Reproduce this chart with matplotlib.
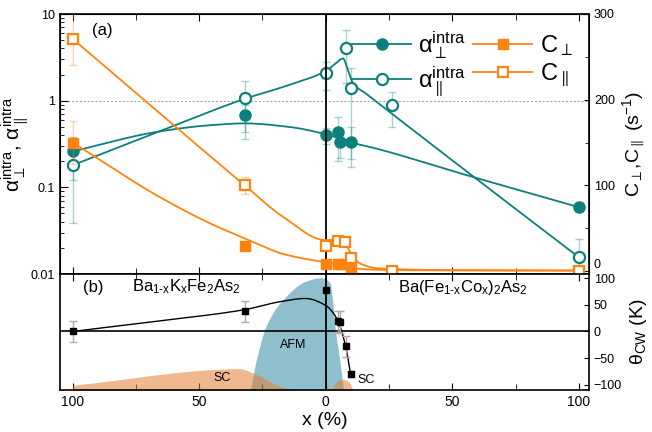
import numpy as np
import matplotlib
matplotlib.use("Agg")
import matplotlib.pyplot as plt
from matplotlib.ticker import FixedLocator, FuncFormatter
from matplotlib.lines import Line2D

plt.rcParams['font.family'] = ['Liberation Sans', 'DejaVu Sans']
plt.rcParams['mathtext.fontset'] = 'custom'
plt.rcParams['mathtext.rm'] = 'Liberation Sans'
plt.rcParams['mathtext.it'] = 'Liberation Sans'

# ---------------- data (x in %, K-doped side negative) ----------------
# alpha_perp (filled circles)
ap_x = [-100, -32, 0, 4.8, 5.5, 10, 100]
ap_y = [0.26, 0.68, 0.40, 0.43, 0.33, 0.33, 0.059]
ap_lo = [0.12, 0.36, 0.32, 0.20, 0.22, 0.21, 0.052]
ap_hi = [0.38, 0.90, 0.49, 0.65, 0.45, 0.50, 0.068]
# alpha_par (open circles)
aq_x = [-100, -32, 0, 8, 10, 26, 100]
aq_y = [0.18, 1.06, 2.06, 4.07, 1.39, 0.89, 0.0156]
aq_lo = [0.039, 0.43, 1.32, 1.58, 0.17, 0.50, 0.008]
aq_hi = [0.36, 1.70, 2.81, 6.5, 2.36, 1.27, 0.0254]
# C_perp (filled squares, right axis)
cp_x = [-100, -32, 0, 4.8, 5.5, 10, 26, 100]
cp_y = [150, 29.6, 7.8, 7.8, 7.8, 2.7, 0.5, 0.5]
cp_err = [25, 6, 2, 2, 2, 1.5, 0.5, 0.5]
# C_par (open squares, right axis)
cq_x = [-100, -32, 0, 5, 7.5, 10, 26, 100]
cq_y = [271, 100, 29.6, 35.4, 33.6, 15.6, 0.5, 0.5]
cq_err = [31, 10, 3, 3, 3, 3, 0.5, 0.5]
# theta_CW (bottom panel)
th_x = [-100, -32, 0, 4.9, 5.5, 7.9, 9.8]
th_y = [0, 38, 78, 19, 18, -28, -80]
th_err = [20, 20, 4, 20, 20, 20, 6]

# guide-to-eye curves (knots)
ap_fit_x = [-100, -66, -46, -32, -15, 0, 5, 10, 20, 55, 100]
ap_fit_y = [0.26, 0.44, 0.52, 0.547, 0.50, 0.41, 0.37, 0.33, 0.28, 0.14, 0.059]
aq_fit_x = [-100, -66, -32, -15, 0, 4, 6.8, 8.8, 10.8, 16, 55, 100]
aq_fit_y = [0.18, 0.44, 1.05, 1.5, 2.2, 2.7, 3.07, 2.25, 1.58, 1.2, 0.158, 0.0156]
cp_fit_x = [-100, -66, -46, -32, -26, -17, 0, 5, 10, 20, 50, 100]
cp_fit_y = [150, 87, 56, 38, 30.4, 20, 10, 7.5, 3.5, 1.5, 0.7, 0.5]
cq_fit_x = [-100, -71.5, -32, -17, 0, 5, 8, 10, 13.4, 21, 50, 100]
cq_fit_y = [271, 199, 100, 63.5, 36, 37, 30, 20.7, 9, 3, 1, 0.5]
th_fit_x = [-100, -70, -32, -18, -8, 0.3, 2.9, 4.9, 7.9, 9.8]
th_fit_y = [0, 17.5, 41, 56, 62, 48, 35, 19, -29, -80]

# phase regions (bottom panel): x knots and upper boundary in theta units
afm_x = [-29.8, -27.4, -23.6, -16.9, -7.6, -2, 1.6, 2.9, 3.6, 5.5, 7.0]
afm_top = [-110, -53, 10, 60, 95, 101, 92, 48, 10, -53, -110]
sck_x = [-100, -34, -28.7, -19.5, -14.2]
sck_top = [-101, -70, -78, -100, -110]
scc_x = [2.2, 4, 6.6, 9, 10.8]
scc_top = [-110, -96, -90, -94, -110]

teal = '#0b807c'
orange = '#ff840f'
afm_col = '#8fbfcc'
sc_col = '#e47e32'


def pchip(xk, yk, xs):
    xk = np.asarray(xk, float); yk = np.asarray(yk, float)
    h = np.diff(xk); d = np.diff(yk) / h
    n = len(xk); m = np.zeros(n)
    for i in range(1, n - 1):
        if d[i - 1] * d[i] > 0:
            w1 = 2 * h[i] + h[i - 1]; w2 = h[i] + 2 * h[i - 1]
            m[i] = (w1 + w2) / (w1 / d[i - 1] + w2 / d[i])
    m[0] = d[0]; m[-1] = d[-1]
    idx = np.clip(np.searchsorted(xk, xs) - 1, 0, n - 2)
    t = (xs - xk[idx]) / h[idx]
    h00 = 2 * t**3 - 3 * t**2 + 1; h10 = t**3 - 2 * t**2 + t
    h01 = -2 * t**3 + 3 * t**2; h11 = t**3 - t**2
    return h00 * yk[idx] + h10 * h[idx] * m[idx] + h01 * yk[idx + 1] + h11 * h[idx] * m[idx + 1]


def curve(xk, yk, log=False, n=600):
    xs = np.linspace(xk[0], xk[-1], n)
    if log:
        return xs, 10 ** pchip(xk, np.log10(yk), xs)
    return xs, pchip(xk, yk, xs)


fig = plt.figure(figsize=(6.52, 4.32), dpi=100)
ax1 = fig.add_axes([60 / 652, 1 - 274 / 432, 529 / 652, 260 / 432])
ax2 = ax1.twinx()
ax3 = fig.add_axes([60 / 652, 1 - 390 / 432, 529 / 652, 116 / 432])

xlim = (-105, 104)
xt = [-100, -50, 0, 50, 100]
xmin = [-75, -25, 25, 75]

# ---------------- top panel ----------------
ax1.set_yscale('log')
ax1.set_xlim(*xlim)
ax1.set_ylim(0.01, 10)
ax2.set_ylim(-3.5, 300)
ax1.axhline(1, color='#999999', ls=(0, (2, 2)), lw=0.7, zorder=1)


def aerr(y, lo, hi):
    y = np.asarray(y)
    return [y - np.asarray(lo), np.asarray(hi) - y]


xs, ys = curve(ap_fit_x, ap_fit_y, log=True)
ax1.plot(xs, ys, color=teal, lw=1.3, zorder=3)
xs, ys = curve(aq_fit_x, aq_fit_y, log=True)
ax1.plot(xs, ys, color=teal, lw=1.3, zorder=3)
ax1.errorbar(ap_x, ap_y, yerr=aerr(ap_y, ap_lo, ap_hi), fmt='none',
             ecolor=teal, alpha=0.35, elinewidth=1, capsize=3, zorder=2)
ax1.errorbar(aq_x, aq_y, yerr=aerr(aq_y, aq_lo, aq_hi), fmt='none',
             ecolor=teal, alpha=0.35, elinewidth=1, capsize=3, zorder=2)
ax1.plot(ap_x, ap_y, 'o', color=teal, ms=8, zorder=5)
ax1.plot(aq_x, aq_y, 'o', mfc='white', mec=teal, mew=1.6, ms=8, zorder=5)

xs, ys = curve(cp_fit_x, cp_fit_y)
ax2.plot(xs, ys, color=orange, lw=1.3, zorder=3)
xs, ys = curve(cq_fit_x, cq_fit_y)
ax2.plot(xs, ys, color=orange, lw=1.3, zorder=3)
ax2.errorbar(cp_x, cp_y, yerr=cp_err, fmt='none', ecolor=orange, alpha=0.35,
             elinewidth=1, capsize=3, zorder=2)
ax2.errorbar(cq_x, cq_y, yerr=cq_err, fmt='none', ecolor=orange, alpha=0.35,
             elinewidth=1, capsize=3, zorder=2)
ax2.plot(cp_x, cp_y, 's', color=orange, ms=7.5, zorder=5)
ax2.plot(cq_x, cq_y, 's', mfc='white', mec=orange, mew=1.6, ms=7.5, zorder=6)

ax1.axvline(0, color='black', lw=1.3, zorder=7)

ax1.set_xticks(xt)
ax1.set_xticks(xmin, minor=True)
ax1.tick_params(axis='x', which='both', direction='in', top=True, bottom=True,
                labelbottom=False, length=4)
ax1.tick_params(axis='x', which='major', length=5)
ax1.yaxis.set_major_locator(FixedLocator([0.01, 0.1, 1, 10]))
ax1.yaxis.set_major_formatter(FuncFormatter(
    lambda v, p: {0.01: '0.01', 0.1: '0.1', 1: '1', 10: '10'}.get(round(v, 3), '')))
ax1.tick_params(axis='y', which='both', direction='in', labelsize=9)
ax1.tick_params(axis='y', which='major', length=6)
ax1.tick_params(axis='y', which='minor', length=3)
ax2.set_yticks([0, 100, 200, 300])
ax2.set_yticks([50, 150, 250], minor=True)
ax2.tick_params(axis='y', which='both', direction='in', labelsize=9)
ax2.tick_params(axis='y', which='minor', length=3)
fig.canvas.draw()
ax2.get_yticklabels()[0].set_verticalalignment('bottom')

ax1.set_ylabel('α$_{\\perp}^{\\rm intra}$, α$_{\\parallel}^{\\rm intra}$',
               fontsize=15, labelpad=0)
ax2.set_ylabel(r'C$_{\perp}$,C$_{\parallel}$ (s$^{-1}$)', fontsize=14, labelpad=4)
ax1.text(0.06, 0.935, '(a)', transform=ax1.transAxes, fontsize=12, va='center')

h1 = Line2D([], [], color=teal, marker='o', ms=8, lw=1.3)
h2 = Line2D([], [], color=teal, marker='o', ms=8, mfc='white', mew=1.6, lw=1.3)
h3 = Line2D([], [], color=orange, marker='s', ms=7.5, lw=1.3)
h4 = Line2D([], [], color=orange, marker='s', ms=7.5, mfc='white', mew=1.6, lw=1.3)
leg = ax1.legend([h1, h2, h3, h4],
                 ['α$_{\\perp}^{\\rm intra}$', 'α$_{\\parallel}^{\\rm intra}$',
                  'C$_{\\perp}$', 'C$_{\\parallel}$'],
                 ncol=2, loc='upper right', bbox_to_anchor=(0.995, 0.995),
                 frameon=False, fontsize=17, handlelength=2.5, handletextpad=0.3,
                 columnspacing=0.3, labelspacing=0.15, borderaxespad=0.2)
leg.set_zorder(10)
for s in ax1.spines.values():
    s.set_linewidth(1.2)

# ---------------- bottom panel ----------------
ax3.set_xlim(*xlim)
ax3.set_ylim(-110, 108)
xs, ys = curve(afm_x, afm_top, n=800)
ax3.fill_between(xs, -115, ys, color=afm_col, lw=0, zorder=1)
xs, ys = curve(sck_x, sck_top)
ax3.fill_between(xs, -115, ys, color=sc_col, alpha=0.55, lw=0, zorder=2)
xs, ys = curve(scc_x, scc_top)
ax3.fill_between(xs, -115, ys, color=sc_col, alpha=0.55, lw=0, zorder=2)
ax3.axhline(0, color='black', lw=1.2, zorder=3)
ax3.axvline(0, color='black', lw=1.3, zorder=3)
xs, ys = curve(th_fit_x, th_fit_y)
ax3.plot(xs, ys, color='black', lw=1.0, zorder=4)
ax3.errorbar(th_x, th_y, yerr=th_err, fmt='none', ecolor='#aaaaaa',
             elinewidth=1, capsize=3, zorder=4)
ax3.plot(th_x, th_y, 's', color='black', ms=5, zorder=5)

ax3.text(-13, -26, 'AFM', fontsize=9, ha='center', va='center', zorder=6)
ax3.text(-41, -88, 'SC', fontsize=9, ha='center', va='center', zorder=6)
ax3.text(16, -92, 'SC', fontsize=9, ha='center', va='center', zorder=6)
ax3.text(-92, 82, '(b)', fontsize=12, ha='center', va='center')
ax3.text(-55, 84, r'Ba$_{\rm 1\text{-}x}$K$_{\rm x}$Fe$_2$As$_2$', fontsize=12,
         ha='center', va='center')
ax3.text(54, 82, r'Ba(Fe$_{\rm 1\text{-}x}$Co$_{\rm x}$)$_2$As$_2$', fontsize=12,
         ha='center', va='center')

ax3.set_xticks(xt)
ax3.set_xticks(xmin, minor=True)
ax3.set_xticklabels([str(abs(v)) for v in xt])
ax3.tick_params(axis='x', which='both', direction='in', top=True, length=4, labelsize=10)
ax3.tick_params(axis='x', which='major', length=5)
ax3.yaxis.tick_right()
ax3.yaxis.set_label_position('right')
ax3.set_yticks([-100, -50, 0, 50, 100])
ax3.tick_params(axis='y', which='both', direction='in', left=False, right=True, labelsize=9)
ax3.set_ylabel(r'θ$_{\rm CW}$ (K)', fontsize=14, labelpad=4)
ax3.set_xlabel('x (%)', fontsize=14, labelpad=2)
for s in ax3.spines.values():
    s.set_linewidth(1.2)

fig.savefig('out.png', dpi=100)
